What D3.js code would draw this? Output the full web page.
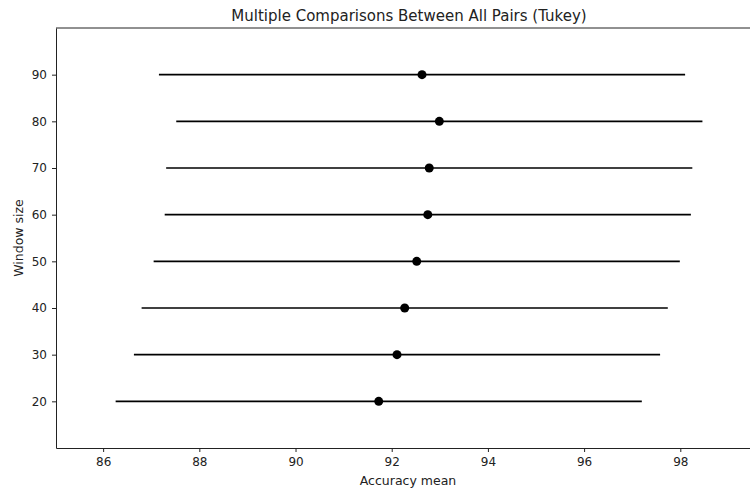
<!DOCTYPE html>
<html>
<head>
<meta charset="utf-8">
<script src="https://cdn.jsdelivr.net/npm/d3@7"></script>
<style>
  body { margin: 0; background: #fff; }
  text { font-family: "DejaVu Sans", sans-serif; fill: #222; }
</style>
</head>
<body>
<svg id="chart"></svg>
<script>
// Tukey HSD: window sizes, group means and confidence limits
const windowSizes = [20, 30, 40, 50, 60, 70, 80, 90];
const means = [91.73, 92.11, 92.27, 92.52, 92.75, 92.78, 92.99, 92.63];
const lower = [86.26, 86.64, 86.80, 87.05, 87.28, 87.31, 87.52, 87.16];
const upper = [97.20, 97.58, 97.74, 97.99, 98.22, 98.25, 98.46, 98.10];
const xTicks = [86, 88, 90, 92, 94, 96, 98];
const yTicks = [20, 30, 40, 50, 60, 70, 80, 90];

const width = 750, height = 490;
const margin = { top: 28, right: -1, bottom: 42, left: 56 };

const svg = d3.select('#chart').attr('width', width).attr('height', height);

const x = d3.scaleLinear().domain([85.02, 99.47]).range([margin.left, width - margin.right]);
const y = d3.scaleLinear().domain([10, 100]).range([height - margin.bottom, margin.top]);

const rows = windowSizes.map((w, i) => ({ w, mean: means[i], lo: lower[i], hi: upper[i] }));

// interval lines
svg.selectAll('.ci').data(rows).join('line')
  .attr('class', 'ci')
  .attr('x1', d => x(d.lo)).attr('x2', d => x(d.hi))
  .attr('y1', d => y(d.w)).attr('y2', d => y(d.w))
  .attr('stroke', '#000').attr('stroke-width', 1.6);

// means
svg.selectAll('.pt').data(rows).join('circle')
  .attr('class', 'pt')
  .attr('cx', d => x(d.mean)).attr('cy', d => y(d.w))
  .attr('r', 4.5).attr('fill', '#000');

// axes
const xAxis = d3.axisBottom(x).tickValues(xTicks).tickSize(4).tickPadding(5).tickSizeOuter(0);
const yAxis = d3.axisLeft(y).tickValues(yTicks).tickSize(4).tickPadding(5).tickSizeOuter(0);

const xg = svg.append('g').attr('transform', `translate(0,${height - margin.bottom})`).call(xAxis);
const yg = svg.append('g').attr('transform', `translate(${margin.left},0)`).call(yAxis);
[xg, yg].forEach(g => {
  g.selectAll('text').style('font-size', '12px').style('font-family', '"DejaVu Sans", sans-serif').attr('fill', '#222');
  g.selectAll('line').attr('stroke', '#222');
  g.select('.domain').attr('stroke', '#222');
});

// top spine
svg.append('line')
  .attr('x1', margin.left).attr('x2', width)
  .attr('y1', margin.top).attr('y2', margin.top)
  .attr('stroke', '#222');

// labels
svg.append('text').attr('x', 409).attr('y', 21)
  .attr('text-anchor', 'middle').style('font-size', '15px')
  .text('Multiple Comparisons Between All Pairs (Tukey)');

svg.append('text').attr('x', 408).attr('y', 485)
  .attr('text-anchor', 'middle').style('font-size', '12.5px')
  .text('Accuracy mean');

svg.append('text')
  .attr('transform', `translate(23,${(margin.top + height - margin.bottom) / 2}) rotate(-90)`)
  .attr('text-anchor', 'middle').style('font-size', '12.5px')
  .text('Window size');
</script>
</body>
</html>
